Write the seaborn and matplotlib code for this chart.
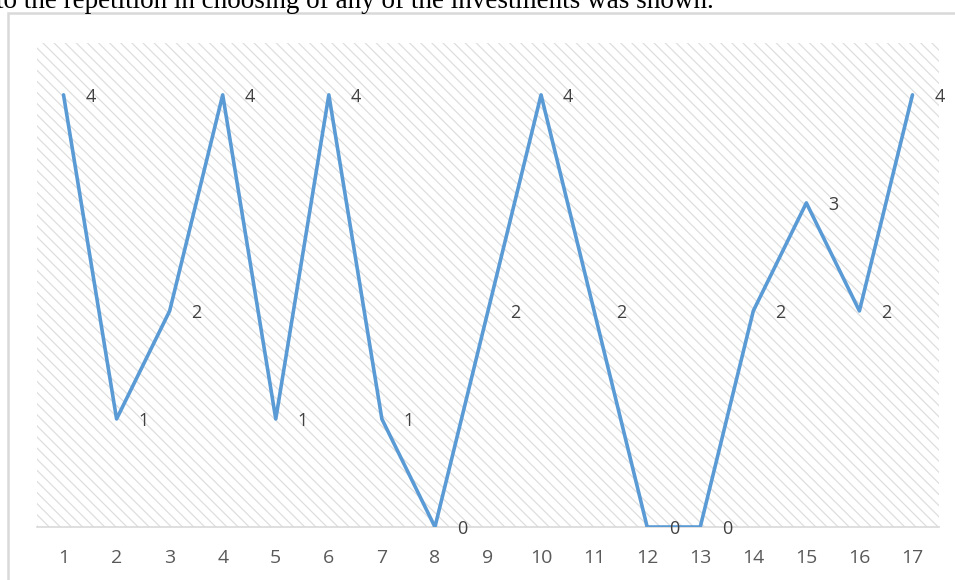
import matplotlib
matplotlib.use("Agg")
import matplotlib.pyplot as plt
import matplotlib.patches as mpatches
import seaborn as sns

# data
categories = list(range(1, 18))
values = [4, 1, 2, 4, 1, 4, 1, 0, 2, 4, 2, 0, 0, 2, 3, 2, 4]
caption = "to the repetition in choosing of any of the investments was shown."

sns.set_style("white")
plt.rcParams['font.family'] = ['Open Sans', 'DejaVu Sans']
plt.rcParams['hatch.linewidth'] = 0.9

fig = plt.figure(figsize=(9.55, 5.8), dpi=100)
ax = fig.add_axes([37 / 955, 1 - 527 / 580, (939 - 37) / 955, (527 - 43) / 580])

# hatched plot area background
bg = mpatches.Rectangle((0, 0), 1, 1, transform=ax.transAxes, facecolor='white',
                        edgecolor='#dedede', hatch='\\\\\\', linewidth=0, zorder=0)
ax.add_patch(bg)

sns.lineplot(x=categories, y=values, ax=ax, color='#5B9BD5', linewidth=2.6, zorder=3)

for x, y in zip(categories, values):
    ax.annotate(str(y), (x, y), xytext=(19.5, -1.5), textcoords='offset points',
                ha='center', va='center', fontsize=13, color='#404040', zorder=4)

ax.set_xlim(0.5, 17.5)
ax.set_ylim(0, 4.48)
ax.set_xticks(categories)
ax.set_xticklabels([str(c) for c in categories])
ax.set_yticks([])
ax.tick_params(axis='x', length=0, pad=16, labelsize=14, labelcolor='#595959')
for side in ['top', 'right', 'left']:
    ax.spines[side].set_visible(False)
ax.spines['bottom'].set_color('#d9d9d9')
ax.spines['bottom'].set_linewidth(1.2)
ax.set_xlabel('')
ax.set_ylabel('')

# chart frame
frame = mpatches.Rectangle((8 / 955, -0.1), 1.0, 1 - 12.5 / 580 + 0.1,
                           transform=fig.transFigure, fill=False,
                           edgecolor='#d9d9d9', linewidth=1.8, clip_on=False)
fig.patches.append(frame)

# caption text cut off at the top, as in the screenshot
fig.text(-4 / 955, 1 - 8 / 580, caption, family=['Liberation Serif'],
         fontsize=19.5, color='black', ha='left', va='baseline')

fig.savefig('out.png', dpi=100)
